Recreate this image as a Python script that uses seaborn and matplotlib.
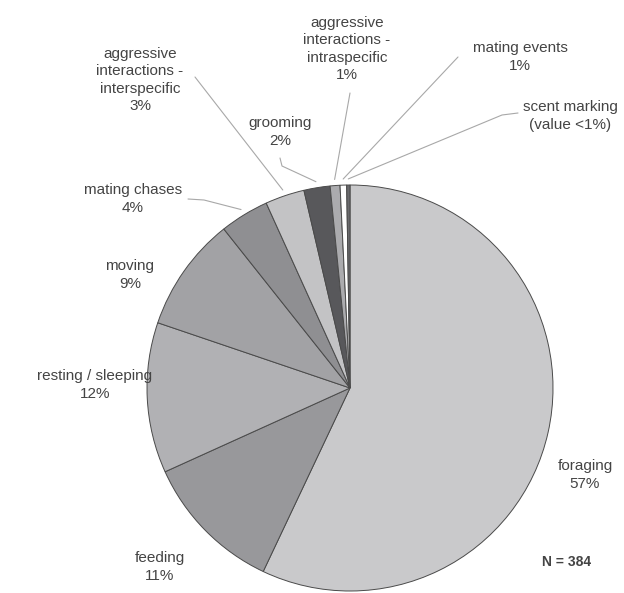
import numpy as np
import matplotlib
matplotlib.use("Agg")
import matplotlib.pyplot as plt
import seaborn as sns

# === data (counts out of N = 384) ===
behaviours = ["foraging", "feeding", "resting / sleeping", "moving", "mating chases",
              "aggressive\ninteractions -\ninterspecific", "grooming",
              "aggressive\ninteractions -\nintraspecific", "mating events", "scent marking"]
counts = [219, 43, 46, 35, 15, 12, 8, 3, 2, 1]
pct_labels = ["57%", "11%", "12%", "9%", "4%", "3%", "2%", "1%", "1%", "(value <1%)"]
shades = ["#c9c9cb", "#98989b", "#b1b1b4", "#a2a2a5", "#8f8f92",
          "#c3c3c5", "#58585b", "#ababae", "#ffffff", "#6a6a6d"]
n_total = 384

sns.set_style("white")
plt.rcParams['font.family'] = ['Liberation Sans', 'DejaVu Sans']

# pixel layout helpers (pie centre at 350,388, radius 203 px)
CX, CY, R = 350, 388, 203
def px(x, y):
    return ((x - CX) / R, (CY - y) / R)

# text centre positions (pixels) and optional leader elbow
label_pos = [(585, 475), (160, 567), (95, 385), (130, 275), (133, 199),
             (140, 80), (280, 132), (347, 49), (520, 57), (570, 116)]
leader_start = [None, None, None, None, (188, 199), (195, 77), (280, 158), (350, 93), (458, 57), (518, 113)]
leader_elbow = [None, None, None, None, (204, 200), None, (282, 166), None, None, (502, 115)]

fig = plt.figure(figsize=(6.24, 5.93), dpi=100)
ax = fig.add_axes([0, 0, 1, 1])

ax.pie(counts, colors=sns.color_palette(shades), startangle=90, counterclock=False,
       radius=1, wedgeprops=dict(edgecolor="#4a4a4a", linewidth=0.7))

# wedge mid angles, clockwise from top
fracs = np.array(counts) / sum(counts)
mids = (np.cumsum(fracs) - fracs / 2) * 2 * np.pi

txt_color = "#444444"
line_color = "#a8a8a8"
for i, (name, pct) in enumerate(zip(behaviours, pct_labels)):
    tx, ty = px(*label_pos[i])
    ax.text(tx, ty, f"{name}\n{pct}", ha="center", va="center", fontsize=11,
            color=txt_color, linespacing=1.3, multialignment="center")
    if leader_start[i] is not None:
        pts = [px(*leader_start[i])]
        if leader_elbow[i] is not None:
            pts.append(px(*leader_elbow[i]))
        r_end = 1.03
        pts.append((r_end * np.sin(mids[i]), r_end * np.cos(mids[i])))
        xs, ys = zip(*pts)
        ax.plot(xs, ys, color=line_color, lw=0.8)

nx, ny = px(567, 562)
ax.text(nx, ny, f"N = {n_total}", ha="center", va="center", fontsize=10,
        fontweight="bold", color=txt_color)

x0, y0 = px(0, 0)
x1, y1 = px(624, 593)
ax.set_xlim(x0, x1)
ax.set_ylim(y1, y0)
ax.set_aspect("equal", adjustable="box")
ax.axis("off")

plt.savefig("out.png", dpi=100, facecolor="white")
